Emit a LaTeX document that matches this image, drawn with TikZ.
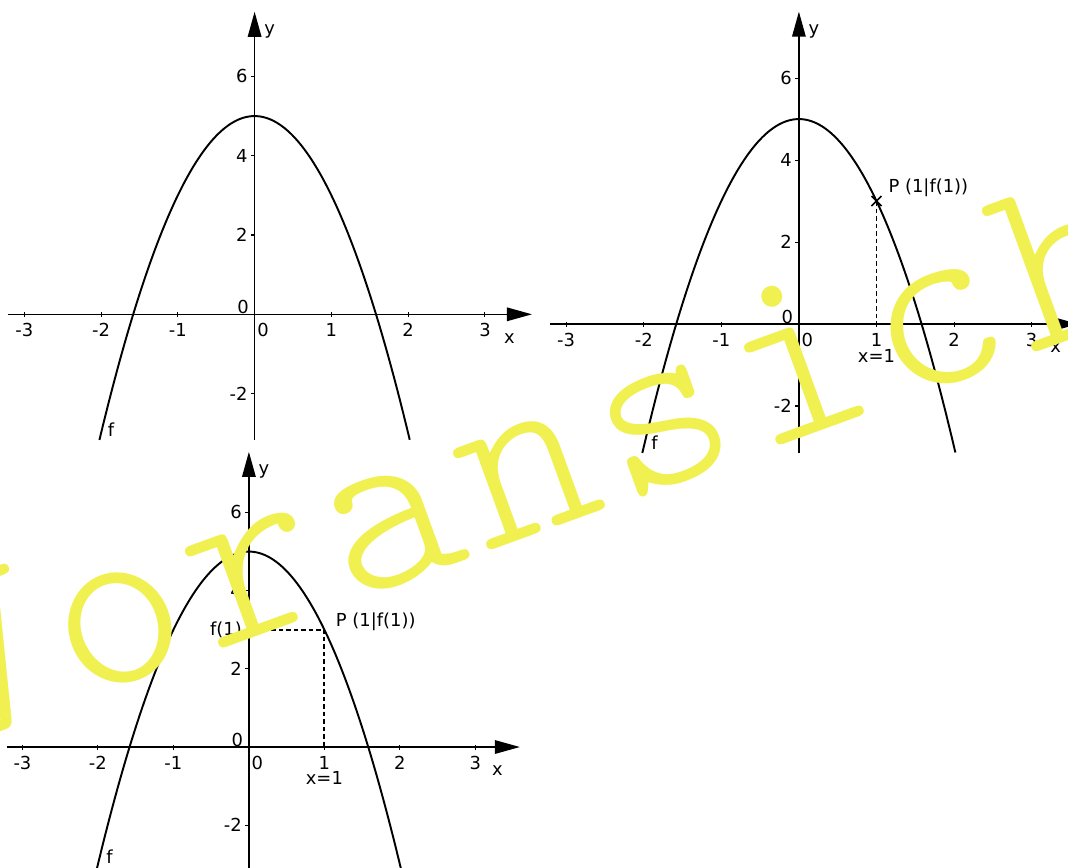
\documentclass[tikz,border=0pt]{standalone}
\usepackage{fontspec}
\setmainfont{DejaVu Sans}
\newfontfamily\wzfont{Latin Modern Mono Light}
\usetikzlibrary{arrows.meta}
\definecolor{wzgelb}{RGB}{240,240,80}
\tikzset{
  achse/.style={line width=0.85pt,-{Triangle[length=0.5cm,width=0.27cm]}},
  kurve/.style={line width=1.1pt,smooth,samples=90},
  hilfslinie/.style={line width=1.1pt,dash pattern=on 0.09cm off 0.06cm},
  zahl/.style={font=\fontsize{10.2}{12}\selectfont,inner sep=1pt},
  wasserzeichen/.style={text=wzgelb,font=\wzfont\fontsize{144}{144}\selectfont,
                        rotate=20,anchor=base,inner sep=0pt},
}
\newcommand{\koordsys}[5]{%
  \draw[achse] (#1,0) -- (#2,0) coordinate (xspitze);
  \draw[achse] (0,#3) -- (0,#4) coordinate (yspitze);
  \foreach \i in {-3,-2,-1,1,2,3}{
    \draw[line width=0.6pt] (\i,0) ++(0,-0.05cm) -- ++(0,0.1cm);
    \node[zahl,yshift=-0.32cm] (xl\i) at (\i,0) {\i};
  }
  \foreach \j in {-2,2,4,6}{
    \draw[line width=0.6pt] (0,\j) -- ++(-0.07cm,0);
    \node[zahl,anchor=east,xshift=-0.1cm] (yl\j) at (0,\j) {\j};
  }
  \node[zahl,xshift=-0.23cm,yshift=0.15cm] (null) at (0,0) {0};
  \node[zahl,xshift=0.17cm,yshift=-0.32cm] (nullx) at (0,0) {0};
  \node[zahl,xshift=-0.45cm,yshift=-0.48cm] (xname) at (xspitze) {x};
  \node[zahl,xshift=0.3cm,yshift=-0.4cm] (yname) at (yspitze) {y};
  \draw[kurve] plot[domain=-#5:#5] (\x,{5-2*\x*\x});
}

\begin{document}
\begin{tikzpicture}[x=0.02cm,y=-0.02cm]
  \useasboundingbox (0,0) rectangle (1068,867);
  \clip (0,0) rectangle (1068,867);
  \fill[white] (0,0) rectangle (1068,867);

  \begin{scope}[shift={(254.6,314.3)},x=1.536cm,y=0.7932cm]
    \koordsys{-3.216}{3.612}{-3.17}{7.63}{2.021}
    \node[zahl] (f1) at (-1.871,-2.917) {f};
  \end{scope}

  \begin{scope}[shift={(798.9,324)},x=1.552cm,y=0.82cm]
    \koordsys{-3.207}{3.6}{-3.146}{7.62}{2.018}
    \node[zahl] (f2) at (-1.861,-2.90) {f};
    \coordinate (P2) at (1,3);
    \coordinate (X2) at (1,0);
    \draw[hilfslinie] (P2) -- (X2);
    \draw[line width=0.9pt] (P2) ++(-0.1cm,-0.1cm) -- ++(0.2cm,0.2cm)
                            (P2) ++(-0.1cm,0.1cm) -- ++(0.2cm,-0.2cm);
    \node[zahl,anchor=west,xshift=0.2cm,yshift=0.26cm] (P2text) at (P2) {P (1|f(1))};
    \node[zahl,yshift=-0.64cm] (x2text) at (X2) {x=1};
  \end{scope}

  \begin{scope}[shift={(248.9,747)},x=1.51cm,y=0.782cm]
    \koordsys{-3.2}{3.59}{-3.3}{7.55}{2.1}
    \node[zahl] (f3) at (-1.846,-2.806) {f};
    \coordinate (P3) at (1,3);
    \coordinate (X3) at (1,0);
    \coordinate (Y3) at (0,3);
    \draw[hilfslinie] (Y3) -- (P3) -- (X3);
    \node[zahl,anchor=west,xshift=0.19cm,yshift=0.16cm] (P3text) at (P3) {P (1|f(1))};
    \node[zahl,anchor=east,xshift=-0.1cm] (f1text) at (Y3) {f(1)};
    \node[zahl,yshift=-0.62cm] (x3text) at (X3) {x=1};
  \end{scope}

  \foreach \ch [count=\k from -1] in {V,o,r,a,n,s,i,c,h,t}
    \node[wasserzeichen] (wz\k) at ({139+136.3*\k},{679-49.6*\k}) {\ch};
\end{tikzpicture}
\end{document}
